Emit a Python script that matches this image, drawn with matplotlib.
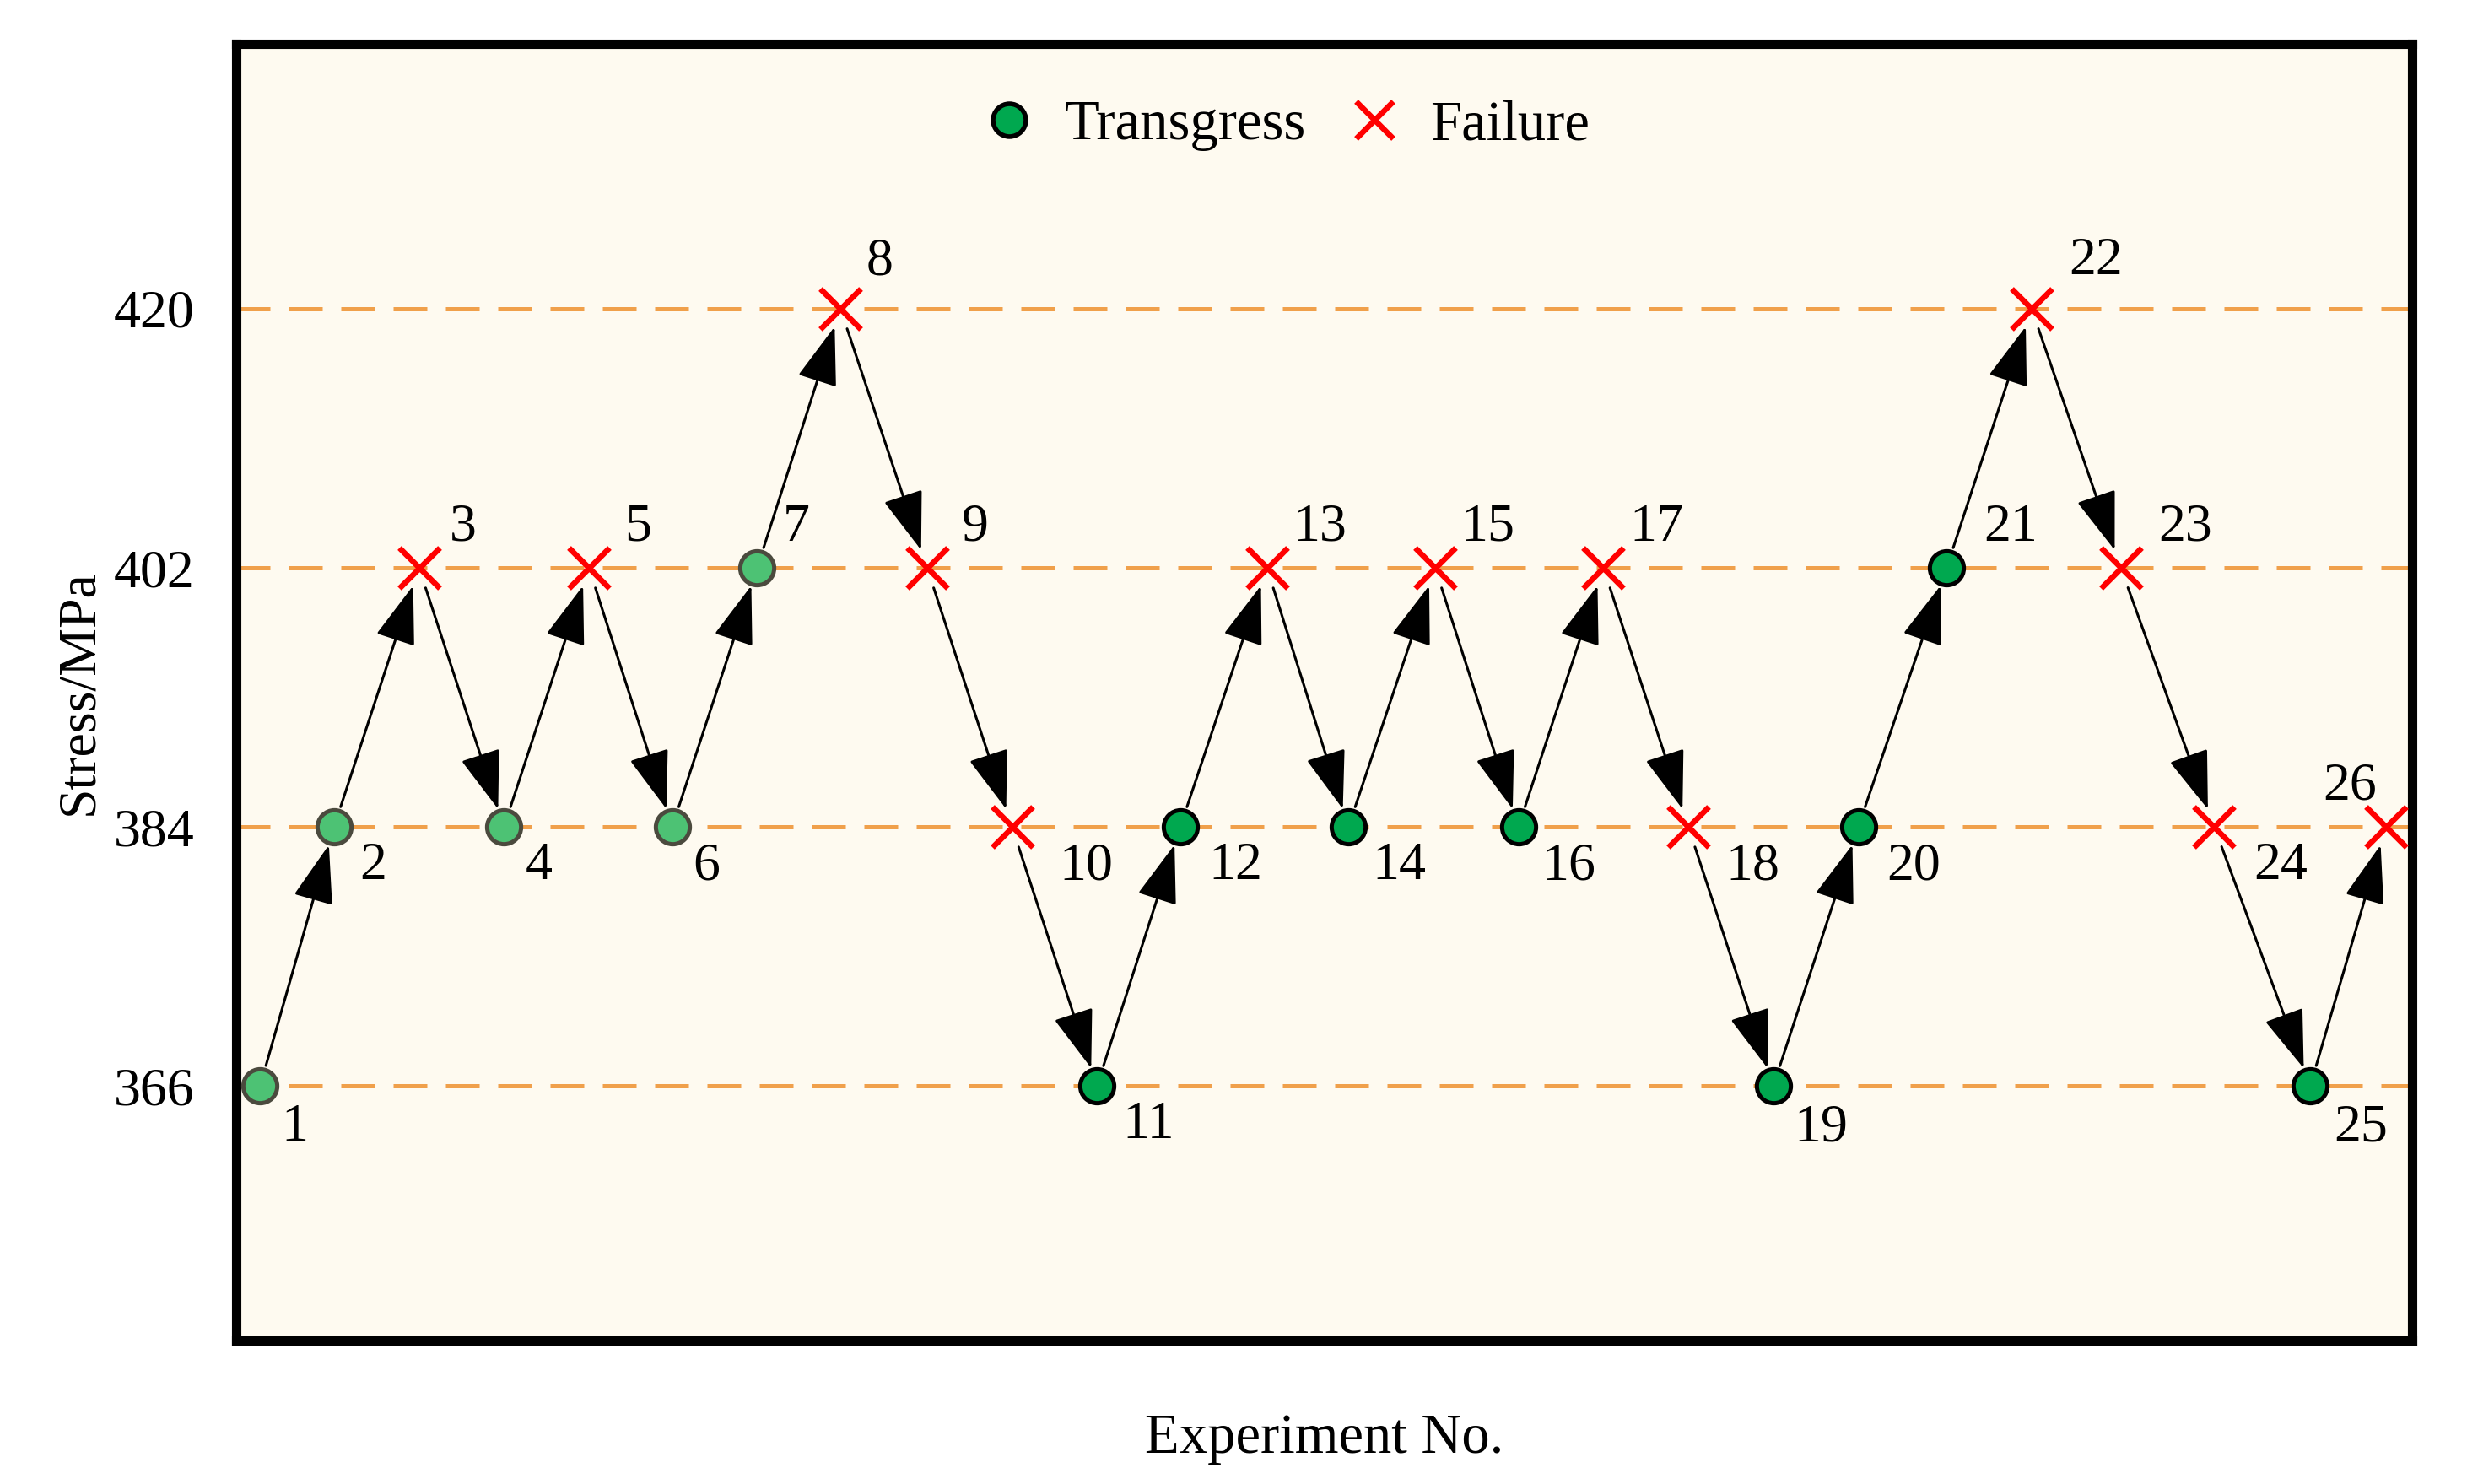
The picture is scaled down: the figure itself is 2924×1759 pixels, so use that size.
import matplotlib
matplotlib.use("Agg")
import matplotlib.pyplot as plt
from matplotlib.lines import Line2D

plt.rcParams['font.family'] = ['Liberation Serif', 'DejaVu Serif']

# Experiment data (x = position along the sequence)
exp_no = list(range(1, 27))
x_pos = [1.0, 1.87, 2.87, 3.87, 4.87, 5.85, 6.85, 7.83, 8.85, 9.85, 10.85, 11.83, 12.85,
         13.81, 14.83, 15.81, 16.81, 17.81, 18.81, 19.81, 20.85, 21.85, 22.9, 24.0, 25.13, 26.02]
stress = [366, 384, 402, 384, 402, 384, 402, 420, 402, 384, 366, 384, 402,
          384, 402, 384, 402, 384, 366, 384, 402, 420, 402, 384, 366, 384]
# 'T' = transgress (run-out), 'F' = failure
result = ['T', 'T', 'F', 'T', 'F', 'T', 'T', 'F', 'F', 'F', 'T', 'T', 'F',
          'T', 'F', 'T', 'F', 'F', 'T', 'T', 'T', 'F', 'F', 'F', 'T', 'F']
stress_levels = [366, 384, 402, 420]

# label offsets in points (style only)
label_off = [(9, -18), (11, -17), (13, 17), (9, -17), (15, 17), (9, -17), (11, 17), (11, 20),
             (15, 17), (20, -17), (11, -17), (12, -17), (11, 17), (10, -17), (11, 17), (10, -17),
             (11, 17), (16, -17), (9, -18), (12, -17), (16, 17), (16, 20), (16, 17), (17, -17),
             (10, -18), (-4, 17)]

fig = plt.figure(figsize=(14.62, 8.795), dpi=200)
ax = fig.add_axes([0.0958, 0.0966, 0.8820, 0.8738])
ax.set_facecolor('#FEFAF0')

for lvl in stress_levels:
    ax.axhline(lvl, color='#F0A04B', lw=1.8, dashes=(8, 4.4), zorder=1)

# arrows between consecutive experiments
for i in range(len(x_pos) - 1):
    ax.annotate('', xy=(x_pos[i + 1], stress[i + 1]), xytext=(x_pos[i], stress[i]),
                arrowprops=dict(arrowstyle='-|>,head_length=1.1,head_width=0.38',
                                mutation_scale=20, color='black', lw=1.1,
                                shrinkA=9, shrinkB=8), zorder=2)

for i, (x, y, r) in enumerate(zip(x_pos, stress, result)):
    if r == 'T':
        if exp_no[i] <= 7:
            fc, ec = '#4DC274', '#4B4A3E'
        else:
            fc, ec = '#00A84F', 'black'
        ax.plot(x, y, 'o', ms=14.5, mfc=fc, mec=ec, mew=1.8, zorder=4)
    else:
        ax.plot(x, y, 'x', ms=17, color='#FF0000', mew=2.4, zorder=4)
    dx, dy = label_off[i]
    ax.annotate(str(exp_no[i]), xy=(x, y), xytext=(dx, dy), textcoords='offset points',
                ha='left' if dx > 0 else 'right', va='center', fontsize=23, zorder=5)

ax.set_xlim(0.72, 26.33)
ax.set_ylim(348.3, 438.4)
ax.set_xticks([])
ax.set_yticks(stress_levels)
ax.tick_params(axis='y', length=0, pad=18, labelsize=23)
ax.set_ylabel('Stress/MPa', fontsize=23, labelpad=4)
ax.set_xlabel('Experiment No.', fontsize=24, labelpad=31)
for sp in ax.spines.values():
    sp.set_linewidth(4)

handles = [Line2D([], [], ls='none', marker='o', ms=14, mfc='#00A84F', mec='black', mew=2),
           Line2D([], [], ls='none', marker='x', ms=16, color='#FF0000', mew=2.4)]
ax.legend(handles, ['Transgress', 'Failure'], loc='center', bbox_to_anchor=(0.482, 0.937),
          ncol=2, frameon=False, fontsize=24, handlelength=1.0, handletextpad=0.5,
          columnspacing=0.7)

fig.savefig('out.png', dpi=200, facecolor='white')
